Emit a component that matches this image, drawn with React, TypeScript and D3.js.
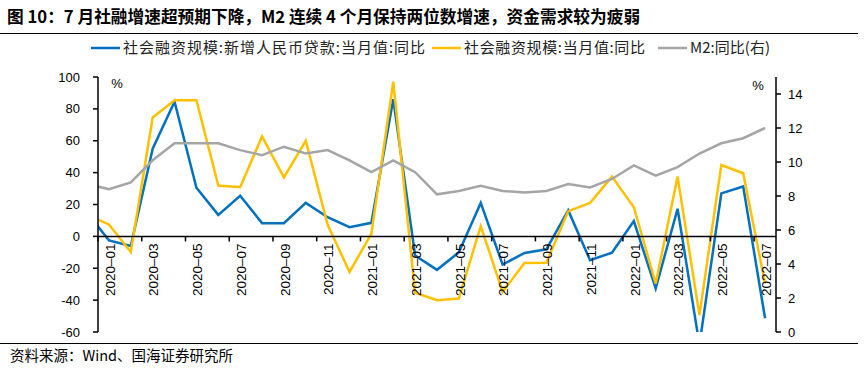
import React from 'react';
import * as d3 from 'd3';

// months, first one sits left of the axis and is clipped away
const months = [
  '2019-12',
  '2020-01', '2020-02', '2020-03', '2020-04', '2020-05', '2020-06',
  '2020-07', '2020-08', '2020-09', '2020-10', '2020-11', '2020-12',
  '2021-01', '2021-02', '2021-03', '2021-04', '2021-05', '2021-06',
  '2021-07', '2021-08', '2021-09', '2021-10', '2021-11', '2021-12',
  '2022-01', '2022-02', '2022-03', '2022-04', '2022-05', '2022-06', '2022-07',
];

// 社会融资规模:新增人民币贷款:当月值:同比
const loanYoy = [
  15,
  -2.5, -6, 55, 84.5, 30.5, 13.5,
  25.5, 8.3, 8.3, 21, 12, 5.8,
  8.5, 86, -12, -21, -10, 21,
  -17.7, -10.4, -8.1, 16.3, -15, -10.2,
  9.6, -32.7, 17.3, -68, 27, 31.3, -51.4,
];

// 社会融资规模:当月值:同比
const tsfYoy = [
  13.5,
  7.5, -9.8, 74.6, 85.4, 85.4, 31.9,
  30.8, 62.7, 37, 60, 7.3, -22.3,
  1.7, 97, -35.4, -40, -39, 6.5,
  -34.8, -16.7, -16.5, 15.8, 21, 37.5,
  18.3, -29.6, 37.5, -49.4, 44.8, 39.6, -29.6,
];

// M2:同比(右)
const m2Yoy = [
  8.7,
  8.4, 8.8, 10.1, 11.1, 11.1, 11.1,
  10.7, 10.4, 10.9, 10.5, 10.7, 10.1,
  9.4, 10.1, 9.4, 8.1, 8.3, 8.6,
  8.3, 8.2, 8.3, 8.7, 8.5, 9.0,
  9.8, 9.2, 9.7, 10.5, 11.1, 11.4, 12.0,
];

const leftTicks = [100, 80, 60, 40, 20, 0, -20, -40, -60];
const rightTicks = [14, 12, 10, 8, 6, 4, 2, 0];
const xLabels = [
  '2020-01', '2020-03', '2020-05', '2020-07', '2020-09', '2020-11',
  '2021-01', '2021-03', '2021-05', '2021-07', '2021-09', '2021-11',
  '2022-01', '2022-03', '2022-05', '2022-07',
];

const legendLabels = [
  '社会融资规模:新增人民币贷款:当月值:同比',
  '社会融资规模:当月值:同比',
  'M2:同比(右)',
];
const legendColors = ['#0070C0', '#FFC000', '#A5A5A5'];

const CJK = '"Noto Sans CJK SC", sans-serif';
const LATIN = '"Liberation Sans", Arial, sans-serif';

export default function App() {
  const width = 865;
  const height = 373;
  const plot = { left: 98, right: 776, top: 77, bottom: 332 };

  const step = (plot.right - plot.left) / (months.length - 1);
  const x = d3.scaleBand<string>()
    .domain(months)
    .range([plot.left - step, plot.right])
    .padding(0);
  const cx = (m: string) => (x(m) as number) + x.bandwidth() / 2;

  const yL = d3.scaleLinear().domain([-60, 100]).range([plot.bottom, plot.top]);
  const yR = d3.scaleLinear().domain([0, 15]).range([plot.bottom, plot.top]);

  const lineL = d3.line<number>().x((_, i) => cx(months[i])).y(d => yL(d));
  const lineR = d3.line<number>().x((_, i) => cx(months[i])).y(d => yR(d));

  const zeroY = yL(0);

  // legend layout (sample start x, text width)
  const legendX = [91, 432, 658];
  const legendW = [302, 181, 80];
  const legendY = 48;

  return (
    <svg
      width={width}
      height={height}
      style={{ position: 'absolute', left: 0, top: 0, background: '#fff' }}
    >
      <defs>
        <clipPath id="plotClip">
          <rect x={plot.left} y={plot.top} width={plot.right - plot.left} height={plot.bottom - plot.top} />
        </clipPath>
      </defs>

      {/* Title */}
      <text x={7} y={23} fontFamily={CJK} fontWeight="bold" fontSize={16.7} fill="#000">
        图 10：7 月社融增速超预期下降，M2 连续 4 个月保持两位数增速，资金需求较为疲弱
      </text>
      <line x1={0} x2={858} y1={33.5} y2={33.5} stroke="#000" strokeWidth={1} />

      {/* Legend */}
      {legendLabels.map((label, i) => (
        <g key={label}>
          <line x1={legendX[i]} x2={legendX[i] + 29} y1={legendY} y2={legendY} stroke={legendColors[i]} strokeWidth={2.5} />
          <text
            x={legendX[i] + 32}
            y={legendY}
            dy="0.35em"
            textLength={legendW[i]}
            lengthAdjust="spacing"
            fontFamily={CJK}
            fontSize={15}
            fill="#222"
          >
            {label}
          </text>
        </g>
      ))}

      {/* Series */}
      <g clipPath="url(#plotClip)" fill="none" strokeWidth={2.5} strokeLinejoin="miter">
        <path d={lineL(loanYoy) || ''} stroke="#0070C0" />
        <path d={lineL(tsfYoy) || ''} stroke="#FFC000" />
        <path d={lineR(m2Yoy) || ''} stroke="#A5A5A5" />
      </g>

      {/* Left axis */}
      <line x1={plot.left} x2={plot.left} y1={plot.top} y2={plot.bottom} stroke="#000" strokeWidth={1.5} />
      {leftTicks.map(t => (
        <g key={t}>
          <line x1={plot.left - 5} x2={plot.left} y1={yL(t)} y2={yL(t)} stroke="#000" strokeWidth={1.5} />
          <text x={80} y={yL(t)} dy="0.35em" textAnchor="end" fontFamily={LATIN} fontSize={13} fill="#000">
            {t}
          </text>
        </g>
      ))}
      <text x={117} y={83} dy="0.35em" textAnchor="middle" fontFamily={LATIN} fontSize={13} fill="#000">%</text>

      {/* Right axis */}
      <line x1={plot.right} x2={plot.right} y1={plot.top} y2={plot.bottom} stroke="#000" strokeWidth={1.5} />
      {rightTicks.map(t => (
        <g key={t}>
          <line x1={plot.right} x2={plot.right + 5} y1={yR(t)} y2={yR(t)} stroke="#000" strokeWidth={1.5} />
          <text x={788} y={yR(t)} dy="0.35em" textAnchor="start" fontFamily={LATIN} fontSize={13} fill="#000">
            {t}
          </text>
        </g>
      ))}
      <text x={758} y={85} dy="0.35em" textAnchor="middle" fontFamily={LATIN} fontSize={13} fill="#000">%</text>

      {/* X axis at zero */}
      <line x1={plot.left} x2={plot.right} y1={zeroY} y2={zeroY} stroke="#000" strokeWidth={1.5} />
      {xLabels.map(m => {
        const bx = x(m) as number;
        return (
          <g key={m}>
            <line x1={bx} x2={bx} y1={zeroY} y2={zeroY + 5} stroke="#000" strokeWidth={1.5} />
            <text
              transform={`translate(${cx(m) + 1},${zeroY + 7}) rotate(-90)`}
              dy="0.35em"
              textAnchor="end"
              fontFamily={LATIN}
              fontSize={13.5}
              fill="#000"
            >
              {m.replace('-', '–')}
            </text>
          </g>
        );
      })}

      {/* Source */}
      <line x1={0} x2={858} y1={343.5} y2={343.5} stroke="#000" strokeWidth={1} />
      <text x={10} y={361} fontFamily={CJK} fontSize={14.5} fill="#000">
        资料来源：Wind、国海证券研究所
      </text>
    </svg>
  );
}
